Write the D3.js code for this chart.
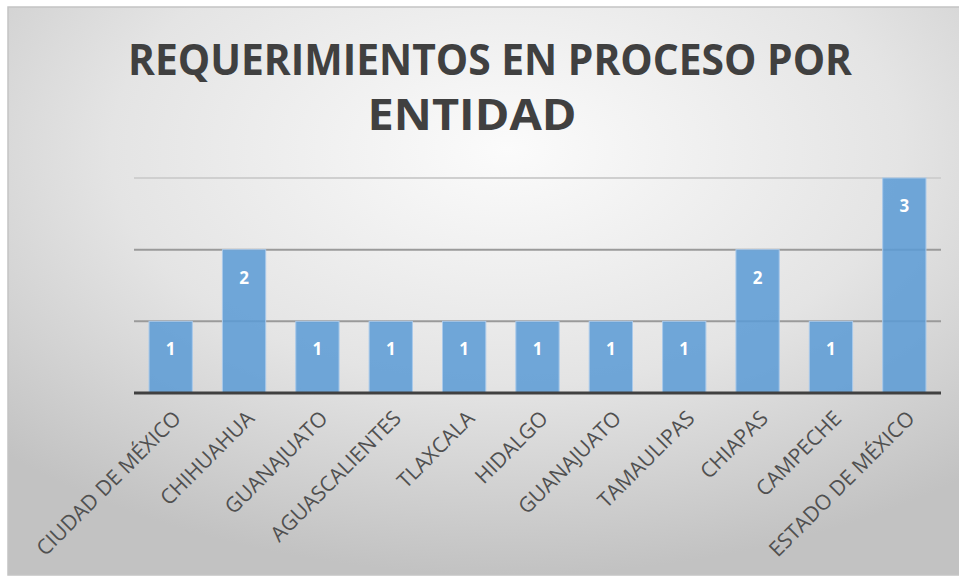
<!DOCTYPE html>
<html>
<head>
<meta charset="utf-8">
<script src="https://cdn.jsdelivr.net/npm/d3@7"></script>
<style>
	body { margin: 0; background: #fff; }
	svg { display: block; }
</style>
</head>
<body>
<svg id="chart" width="959" height="577"></svg>
<script>
// chart data
const titleLines = ["REQUERIMIENTOS EN PROCESO POR", "ENTIDAD"];
const entidades = ["CIUDAD DE MÉXICO", "CHIHUAHUA", "GUANAJUATO", "AGUASCALIENTES", "TLAXCALA",
	"HIDALGO", "GUANAJUATO", "TAMAULIPAS", "CHIAPAS", "CAMPECHE", "ESTADO DE MÉXICO"];
const valores = [1, 2, 1, 1, 1, 1, 1, 1, 2, 1, 3];
const yTicks = [1, 2, 3];

const svg = d3.select("#chart");
const margin = { left: 134, right: 941, top: 178, bottom: 393 };

// background panel with radial gradient
const defs = svg.append("defs");
const grad = defs.append("radialGradient")
	.attr("id", "bg")
	.attr("cx", "52%").attr("cy", "25%").attr("r", "75%");
grad.append("stop").attr("offset", "0%").attr("stop-color", "#fbfbfb");
grad.append("stop").attr("offset", "55%").attr("stop-color", "#e4e4e4");
grad.append("stop").attr("offset", "100%").attr("stop-color", "#c2c2c2");

svg.append("rect")
	.attr("x", 8).attr("y", 7)
	.attr("width", 960).attr("height", 568)
	.attr("fill", "url(#bg)")
	.attr("stroke", "#c4c4c4")
	.attr("stroke-width", 1.5);

// title (two lines, squeezed to the width of the original)
const titleX = [490, 472];
const titleY = [75, 130];
const titleW = [724, 209];
svg.selectAll(".title")
	.data(titleLines)
	.enter().append("text")
	.attr("class", "title")
	.attr("x", (d, i) => titleX[i])
	.attr("y", (d, i) => titleY[i])
	.attr("text-anchor", "middle")
	.attr("textLength", (d, i) => titleW[i])
	.attr("lengthAdjust", "spacingAndGlyphs")
	.style("font-family", "'Open Sans', sans-serif")
	.style("font-weight", "bold")
	.style("font-size", "43px")
	.style("fill", "#404040")
	.text(d => d);

// scales
const x = d3.scaleBand()
	.domain(d3.range(entidades.length))
	.range([margin.left, margin.right])
	.paddingInner(0.41)
	.paddingOuter(0.205);

const y = d3.scaleLinear()
	.domain([0, 3])
	.range([margin.bottom, margin.top]);

// gridlines
svg.append("g")
	.selectAll("line")
	.data(yTicks)
	.enter().append("line")
	.attr("x1", margin.left).attr("x2", margin.right)
	.attr("y1", d => y(d)).attr("y2", d => y(d))
	.attr("stroke", (d) => d == 3 ? "#cfcfcf" : "#9a9a9a")
	.attr("stroke-width", 2);

// bars
svg.append("g")
	.selectAll("rect")
	.data(valores)
	.enter().append("rect")
	.attr("x", (d, i) => x(i))
	.attr("y", d => y(d))
	.attr("width", x.bandwidth())
	.attr("height", d => y(0) - y(d))
	.attr("fill", "#5b9bd5")
	.attr("fill-opacity", 0.86)
	.attr("stroke", "#a9c9ea")
	.attr("stroke-width", 1);

// value labels
svg.append("g")
	.selectAll("text")
	.data(valores)
	.enter().append("text")
	.attr("x", (d, i) => x(i) + x.bandwidth() / 2)
	.attr("y", d => y(d) + 34)
	.attr("text-anchor", "middle")
	.style("font-family", "'Open Sans', sans-serif")
	.style("font-weight", "bold")
	.style("font-size", "17px")
	.style("fill", "#ffffff")
	.text(d => d);

// baseline
svg.append("line")
	.attr("x1", margin.left).attr("x2", margin.right)
	.attr("y1", y(0)).attr("y2", y(0))
	.attr("stroke", "#404040")
	.attr("stroke-width", 3);

// category labels
svg.append("g")
	.selectAll("text")
	.data(entidades)
	.enter().append("text")
	.attr("transform", (d, i) => `translate(${x(i) + x.bandwidth() / 2 + 1},${y(0) + 16}) rotate(-45)`)
	.attr("dy", "0.72em")
	.attr("text-anchor", "end")
	.style("font-family", "'Open Sans', sans-serif")
	.style("font-size", "21px")
	.style("fill", "#505050")
	.text(d => d);
</script>
</body>
</html>
